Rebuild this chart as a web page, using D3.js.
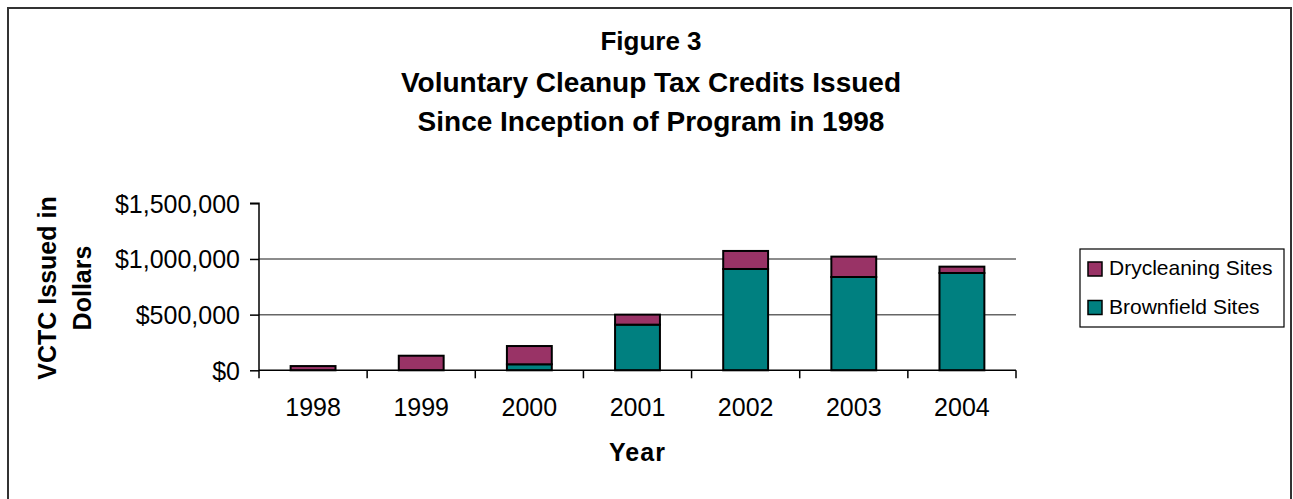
<!DOCTYPE html>
<html>
<head>
<meta charset="utf-8">
<script src="https://cdn.jsdelivr.net/npm/d3@7"></script>
<style>
  html, body { margin: 0; padding: 0; background: #fff; }
  svg { display: block; font-family: "Liberation Sans", Arial, sans-serif; }
</style>
</head>
<body>
<svg id="chart" width="1293" height="499"></svg>
<script>
// ---- data ----
const years = ["1998", "1999", "2000", "2001", "2002", "2003", "2004"];
const brownfield = [0, 0, 54000, 410000, 910000, 838000, 874000];
const drycleaning = [38000, 131000, 164000, 90000, 162000, 183000, 57000];
const seriesNames = ["Brownfield Sites", "Drycleaning Sites"];
const seriesColors = ["#008080", "#993366"];
const yTicks = [0, 500000, 1000000, 1500000];
const titleLines = ["Figure 3", "Voluntary Cleanup Tax Credits Issued", "Since Inception of Program in 1998"];

// ---- layout ----
const W = 1293, H = 499;
const plot = { left: 259, right: 1016, top: 203.3, bottom: 370.3 };

const svg = d3.select("#chart");

// outer border
svg.append("rect")
  .attr("x", 8).attr("y", 8)
  .attr("width", 1283).attr("height", 500)
  .attr("fill", "#fff").attr("stroke", "#333").attr("stroke-width", 2);

// title
const titleSizes = [26, 28, 28];
const titleY = [50, 91.5, 131];
svg.append("g").selectAll("text").data(titleLines).join("text")
  .attr("x", 651).attr("y", (d, i) => titleY[i])
  .attr("text-anchor", "middle")
  .attr("font-weight", "bold")
  .attr("font-size", (d, i) => titleSizes[i])
  .text(d => d);

// scales
const x = d3.scaleBand().domain(years)
  .range([plot.left, plot.right])
  .paddingInner(0.585).paddingOuter(0.2925);
const y = d3.scaleLinear().domain([0, 1500000]).range([plot.bottom, plot.top]);

// gridlines
svg.append("g").selectAll("line").data(yTicks.filter(t => t > 0 && t < 1500000)).join("line")
  .attr("x1", plot.left).attr("x2", plot.right)
  .attr("y1", d => y(d)).attr("y2", d => y(d))
  .attr("stroke", "#666").attr("stroke-width", 1.5);

// stacked bars
const rows = years.map((yr, i) => ({ year: yr, "Brownfield Sites": brownfield[i], "Drycleaning Sites": drycleaning[i] }));
const stack = d3.stack().keys(seriesNames)(rows);
const color = d3.scaleOrdinal().domain(seriesNames).range(seriesColors);

svg.append("g").selectAll("g").data(stack).join("g")
  .attr("fill", d => color(d.key))
  .selectAll("rect").data(d => d.filter(p => p[1] - p[0] > 0)).join("rect")
  .attr("x", d => x(d.data.year))
  .attr("width", x.bandwidth())
  .attr("y", d => y(d[1]))
  .attr("height", d => y(d[0]) - y(d[1]))
  .attr("stroke", "#000").attr("stroke-width", 2);

// y axis
const yAxis = d3.axisLeft(y).tickValues(yTicks).tickSize(9).tickPadding(10)
  .tickFormat(d => "$" + d3.format(",")(d));
const gy = svg.append("g").attr("transform", `translate(${plot.left},0)`).call(yAxis);
gy.select(".domain").attr("stroke", "#000").attr("stroke-width", 1.5).attr("d", `M-9,${plot.top}H0V${plot.bottom}`);
gy.selectAll(".tick line").attr("stroke", "#000").attr("stroke-width", 1.5);
gy.selectAll(".tick text").attr("font-size", 25).attr("fill", "#000")
  .attr("font-family", "Liberation Sans, Arial, sans-serif").attr("dy", "0.35em");

// x axis
const bounds = x.domain().map(d => x(d) - x.step() * x.paddingInner() / 2).concat([plot.right]);
const gx = svg.append("g").attr("transform", `translate(0,${plot.bottom})`);
gx.append("line").attr("x1", plot.left).attr("x2", plot.right).attr("y1", 0).attr("y2", 0)
  .attr("stroke", "#000").attr("stroke-width", 1.5);
gx.selectAll("line.tk").data(bounds).join("line").attr("class", "tk")
  .attr("x1", d => d).attr("x2", d => d).attr("y1", 0).attr("y2", 8)
  .attr("stroke", "#000").attr("stroke-width", 1.5);
gx.selectAll("text").data(years).join("text")
  .attr("x", d => x(d) + x.bandwidth() / 2).attr("y", 46)
  .attr("text-anchor", "middle").attr("font-size", 25)
  .text(d => d);

// axis titles
svg.append("text")
  .attr("x", 637.5).attr("y", 461)
  .attr("text-anchor", "middle").attr("font-weight", "bold").attr("font-size", 25)
  .attr("letter-spacing", 1)
  .text("Year");

const yt = svg.append("text")
  .attr("transform", "translate(56,288) rotate(-90)")
  .attr("text-anchor", "middle").attr("font-weight", "bold").attr("font-size", 25);
yt.append("tspan").attr("x", 0).attr("y", 0).text("VCTC Issued in");
yt.append("tspan").attr("x", 0).attr("y", 35).text("Dollars");

// legend
const lg = svg.append("g");
lg.append("rect").attr("x", 1080).attr("y", 249).attr("width", 204).attr("height", 78)
  .attr("fill", "#fff").attr("stroke", "#000").attr("stroke-width", 1.2);
const legendItems = ["Drycleaning Sites", "Brownfield Sites"];
const li = lg.selectAll("g.item").data(legendItems).join("g").attr("class", "item")
  .attr("transform", (d, i) => `translate(1088,${262 + i * 38.5})`);
li.append("rect").attr("width", 14).attr("height", 14)
  .attr("fill", d => color(d)).attr("stroke", "#000").attr("stroke-width", 1.5);
li.append("text").attr("x", 21).attr("y", 13).attr("font-size", 21).text(d => d);
</script>
</body>
</html>
